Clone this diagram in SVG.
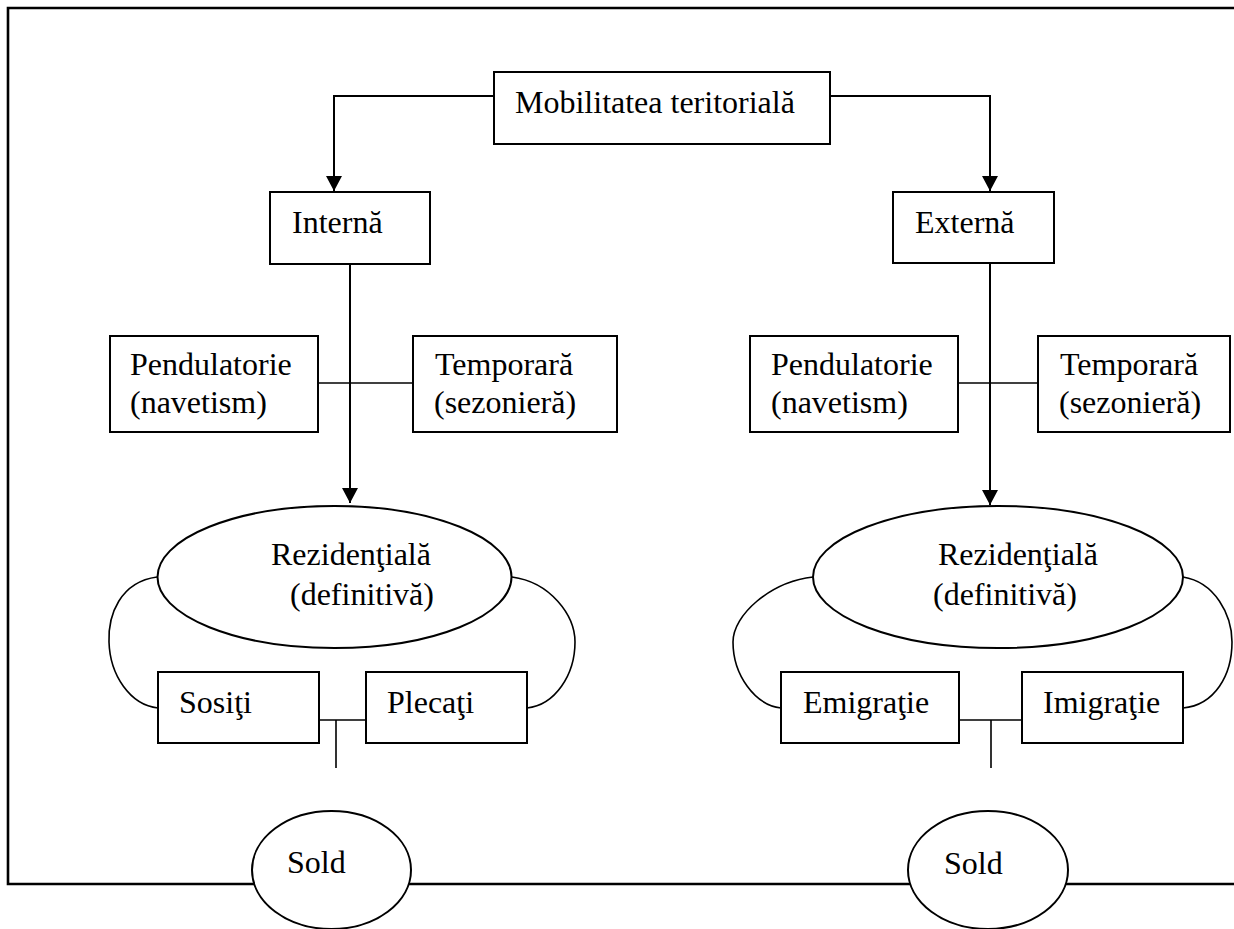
<svg xmlns="http://www.w3.org/2000/svg" width="1234" height="929" viewBox="0 0 1234 929">
<style>
.box{fill:#fff;stroke:#000;stroke-width:2}
.ell{fill:#fff;stroke:#000;stroke-width:2}
.ln{fill:none;stroke:#000;stroke-width:2}
.thin{fill:none;stroke:#000;stroke-width:1.6}
.frame{fill:none;stroke:#000;stroke-width:2.6}
text{font-family:"Liberation Serif","Times New Roman",serif;font-size:32px;fill:#000}
</style>
<defs>
<marker id="arr" markerUnits="userSpaceOnUse" markerWidth="16" markerHeight="16" viewBox="0 0 16 16" refX="15" refY="8" orient="auto">
<path d="M0,0 L15,8 L0,16 Z" fill="#000"/>
</marker>
</defs>
<rect width="1234" height="929" fill="#fff"/>
<g id="frame">
<path class="frame" d="M1234,8 H8 V884 H1234"/>
</g>
<g id="connectors">
<path class="ln" d="M494,96 H334 V191" marker-end="url(#arr)"/>
<path class="ln" d="M830,96 H990 V191" marker-end="url(#arr)"/>
<path class="ln" d="M350,264 V503" marker-end="url(#arr)"/>
<path class="ln" d="M990,263 V505" marker-end="url(#arr)"/>
<path class="thin" d="M318,383 H413"/>
<path class="thin" d="M958,383 H1038"/>
<path class="thin" d="M319,720 H366 M336,720 V768"/>
<path class="thin" d="M959,720 H1022 M991,720 V768"/>
<path class="thin" d="M157,577 C120,582 108,615 109,642 C110,675 130,705 158,708"/>
<path class="thin" d="M512,577 C550,582 575,615 575,642 C575,675 555,705 527,708"/>
<path class="thin" d="M813,577 C770,582 733,615 733,642 C733,675 755,705 781,708"/>
<path class="thin" d="M1183,577 C1215,582 1232,615 1232,642 C1232,675 1215,705 1183,708"/>
</g>
<g id="mobilitatea">
<rect class="box" x="494" y="72" width="336" height="72"/>
<text x="515" y="113">Mobilitatea teritorială</text>
</g>
<g id="interna">
<rect class="box" x="270" y="192" width="160" height="72"/>
<text x="292" y="233">Internă</text>
</g>
<g id="externa">
<rect class="box" x="893" y="192" width="161" height="71"/>
<text x="915" y="233">Externă</text>
</g>
<g id="pendulatorie-int">
<rect class="box" x="110" y="336" width="208" height="96"/>
<text x="130" y="375">Pendulatorie</text>
<text x="130" y="413">(navetism)</text>
</g>
<g id="temporara-int">
<rect class="box" x="413" y="336" width="204" height="96"/>
<text x="435" y="375">Temporară</text>
<text x="434" y="413">(sezonieră)</text>
</g>
<g id="pendulatorie-ext">
<rect class="box" x="750" y="336" width="208" height="96"/>
<text x="771" y="375">Pendulatorie</text>
<text x="771" y="413">(navetism)</text>
</g>
<g id="temporara-ext">
<rect class="box" x="1038" y="336" width="192" height="96"/>
<text x="1060" y="375">Temporară</text>
<text x="1059" y="413">(sezonieră)</text>
</g>
<g id="rezidentiala-int">
<ellipse class="ell" cx="334.5" cy="577" rx="177" ry="71"/>
<text x="271" y="565">Rezidenţială</text>
<text x="290" y="605">(definitivă)</text>
</g>
<g id="rezidentiala-ext">
<ellipse class="ell" cx="998" cy="577" rx="185" ry="71"/>
<text x="938" y="565">Rezidenţială</text>
<text x="933" y="605">(definitivă)</text>
</g>
<g id="sositi">
<rect class="box" x="158" y="672" width="161" height="71"/>
<text x="179" y="713">Sosiţi</text>
</g>
<g id="plecati">
<rect class="box" x="366" y="672" width="161" height="71"/>
<text x="387" y="713">Plecaţi</text>
</g>
<g id="emigratie">
<rect class="box" x="781" y="672" width="178" height="71"/>
<text x="803" y="713">Emigraţie</text>
</g>
<g id="imigratie">
<rect class="box" x="1022" y="672" width="161" height="71"/>
<text x="1043" y="713">Imigraţie</text>
</g>
<g id="sold-int">
<ellipse class="ell" cx="331.5" cy="870" rx="79.5" ry="59"/>
<text x="287" y="873">Sold</text>
</g>
<g id="sold-ext">
<ellipse class="ell" cx="988" cy="870" rx="80" ry="59"/>
<text x="944" y="874">Sold</text>
</g>
</svg>
